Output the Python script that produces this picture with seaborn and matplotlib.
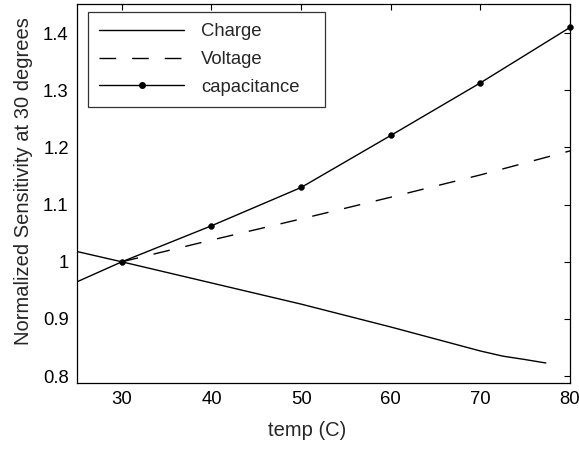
import matplotlib
matplotlib.use("Agg")
import matplotlib.pyplot as plt
from matplotlib.lines import Line2D
import seaborn as sns

# values
charge_temp = [25, 30, 40, 50, 60, 65, 70, 72.5, 75, 77.3]
charge_sens = [1.018, 1.0, 0.963, 0.926, 0.886, 0.865, 0.844, 0.835, 0.829, 0.823]

voltage_temp = [30, 40, 50, 60, 70, 80]
voltage_sens = [1.0, 1.038, 1.075, 1.113, 1.152, 1.194]

cap_line_temp = [25, 30, 40, 50, 60, 70, 80]
cap_line_sens = [0.965, 1.0, 1.063, 1.13, 1.221, 1.313, 1.41]
cap_marker_temp = [30, 40, 50, 60, 70, 80]
cap_marker_sens = [1.0, 1.063, 1.13, 1.221, 1.313, 1.41]

DASH = [12, 11.5]

sns.set_style("white")
plt.rcParams["font.family"] = ["Liberation Sans", "DejaVu Sans"]

fig = plt.figure(figsize=(5.79, 4.49), dpi=100)
ax = fig.add_axes([77 / 579, 66 / 449, 493 / 579, 379 / 449])

sns.lineplot(x=charge_temp, y=charge_sens, ax=ax, color="black", lw=1.0)
sns.lineplot(x=voltage_temp, y=voltage_sens, ax=ax, color="black", lw=1.0)
ax.lines[-1].set_dashes(DASH)
sns.lineplot(x=cap_line_temp, y=cap_line_sens, ax=ax, color="black", lw=1.0)
sns.scatterplot(x=cap_marker_temp, y=cap_marker_sens, ax=ax, color="black", s=18,
                edgecolor="black", zorder=3, clip_on=False)

ax.set_xlim(25, 80)
ax.set_ylim(0.788, 1.451)
ax.set_xticks([30, 40, 50, 60, 70, 80])
ax.set_yticks([0.8, 0.9, 1.0, 1.1, 1.2, 1.3, 1.4])
ax.set_yticklabels(["0.8", "0.9", "1", "1.1", "1.2", "1.3", "1.4"])
ax.tick_params(direction="in", length=4.5, width=0.8, top=True, right=True,
               labelsize=13.3, colors="black", pad=6)
for s in ax.spines.values():
    s.set_color("black")
    s.set_linewidth(0.9)

ax.set_xlabel("temp (C)", fontsize=14.5, labelpad=9, x=0.467)
ax.set_ylabel("Normalized Sensitivity at 30 degrees", fontsize=14.5, labelpad=7, y=0.533)

# legend: capacitance shows line with a dot in the middle
handles = [
    Line2D([], [], color="black", lw=1.0),
    Line2D([], [], color="black", lw=1.0, dashes=DASH),
    Line2D([], [], color="black", lw=1.0, marker="o", markersize=4),
]
leg = ax.legend(handles, ["Charge", "Voltage", "capacitance"], loc="upper left",
                bbox_to_anchor=(88 / 579, 345 / 449, 237 / 579, 92 / 449),
                bbox_transform=fig.transFigure, mode="expand",
                fontsize=13.3, frameon=True, fancybox=False, handlelength=4.6,
                borderpad=0.61, labelspacing=0.58, handletextpad=0.9,
                borderaxespad=0, numpoints=1)
leg.get_frame().set_edgecolor("black")
leg.get_frame().set_linewidth(0.9)

fig.savefig("out.png", dpi=100)
